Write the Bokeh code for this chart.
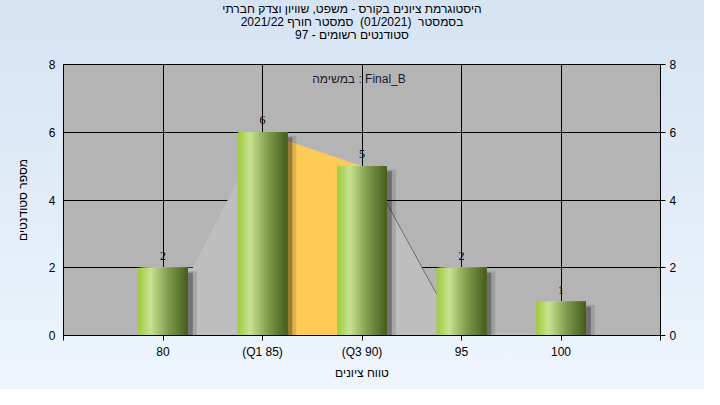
import numpy as np
from bokeh.plotting import figure
from bokeh.layouts import column
from bokeh.models import Range1d, LinearAxis, FixedTicker, Label, Div, ColumnDataSource, InlineStyleSheet
from bokeh.embed import file_html
from bokeh.resources import INLINE

# ---------------- data ----------------
categories = ["80", "(Q1 85)", "(Q3 90)", "95", "100"]
counts = [2, 6, 5, 2, 1]
y_ticks = [0, 2, 4, 6, 8]
x_ticks = [-1, 0, 1, 2, 3, 4, 5]

# distribution area behind the bars (x in category-index units)
curve_x = [0.0, 0.0, 0.3, 1.0, 2.0, 2.26, 2.73, 3.0, 4.0, 4.0]
curve_y = [0.0, 2.0, 2.0, 6.0, 5.0, 3.85, 1.33, 0.08, 0.05, 0.0]
# inter-quartile area (Q1 .. Q3)
iqr_x = [1.0, 1.0, 2.0, 2.0]
iqr_y = [0.0, 6.0, 5.0, 0.0]

title_lines = [
    "היסטוגרמת ציונים בקורס - משפט, שוויון וצדק חברתי",
    "בסמסטר&nbsp; (01/2021)&nbsp; סמסטר חורף 2021/22",
    "סטודנטים רשומים - 97",
]
x_label = "טווח ציונים"
y_label = "מספר סטודנטים"
note_text = "במשימה : Final_B"

FONT = "Liberation Sans"
W = 704
TITLE_H = 54

# ---------------- title block ----------------
title = Div(text="<br>".join(title_lines), width=W, height=TITLE_H, margin=(0, 0, 0, 0),
            styles={"font-family": FONT, "font-size": "12px", "line-height": "13px",
                    "text-align": "center", "color": "black", "padding-top": "3px",
                    "box-sizing": "border-box"})

# ---------------- figure ----------------
p = figure(width=W, height=389 - TITLE_H, output_backend="svg", toolbar_location=None,
           title=None,
           x_range=Range1d(-1, 5), y_range=Range1d(0, 8),
           min_border_left=63, min_border_right=44, min_border_top=64 - TITLE_H, min_border_bottom=54)

p.background_fill_color = "#B4B4B4"
p.border_fill_color = None
p.outline_line_color = "black"

# grid
p.xgrid.ticker = FixedTicker(ticks=x_ticks)
p.ygrid.ticker = FixedTicker(ticks=y_ticks)
for g in (p.xgrid[0], p.ygrid[0]):
    g.grid_line_color = "black"
    g.grid_line_width = 1

# distribution areas
p.patch(curve_x, curve_y, fill_color="#BEBEBE", line_color=None)
p.patch(iqr_x, iqr_y, fill_color="#FFCB57", line_color=None)
p.line(curve_x[4:8], curve_y[4:8], line_color="#6E6E6E", line_width=1)

# bar shadows
idx = np.arange(len(counts))
cnt = np.array(counts, dtype=float)
p.vbar(x=idx + 0.07, top=cnt - 0.1, bottom=-1, width=0.54, fill_color="black", fill_alpha=0.12, line_color=None)
p.vbar(x=idx + 0.05, top=cnt - 0.15, bottom=-1, width=0.5, fill_color="black", fill_alpha=0.3, line_color=None)

# gradient bars built from overlapping strips (each strip runs to the bar's right edge)
stops = [(0.0, (158, 204, 58)), (0.25, (200, 226, 146)), (0.6, (128, 158, 78)), (1.0, (70, 92, 28))]

def grad(t):
    for (t0, c0), (t1, c1) in zip(stops[:-1], stops[1:]):
        if t <= t1:
            f = (t - t0) / (t1 - t0)
            return "#%02x%02x%02x" % tuple(int(round(a + (b - a) * f)) for a, b in zip(c0, c1))
    return "#%02x%02x%02x" % stops[-1][1]

n = 30
bw = 0.5
sl, sr, st, sc = [], [], [], []
for i, c in enumerate(counts):
    for k in range(n):
        t = (k + 0.5) / n
        sl.append(i - bw / 2 + k * bw / n)
        sr.append(i + bw / 2)
        st.append(c)
        sc.append(grad(t))
src = ColumnDataSource(dict(left=sl, right=sr, top=st, color=sc))
p.quad(left="left", right="right", top="top", bottom=0, fill_color="color", line_color=None, source=src)

# value labels
p.text(x=idx, y=cnt, text=[str(c) for c in counts], text_align="center", text_baseline="bottom",
       y_offset=-8, text_font="Liberation Sans", text_font_size="12px", text_color="black")

# axes
xa = p.xaxis[0]
xa.ticker = FixedTicker(ticks=x_ticks)
xa.major_label_overrides = {i: categories[i] if 0 <= i < len(categories) else "" for i in x_ticks}
xa.axis_label = x_label
ya = p.yaxis[0]
ya.ticker = FixedTicker(ticks=y_ticks)
ya.axis_label = y_label

ra = LinearAxis(ticker=FixedTicker(ticks=y_ticks))
p.add_layout(ra, "right")

for ax in (xa, ya, ra):
    ax.axis_line_color = "black"
    ax.major_tick_line_color = "black"
    ax.minor_tick_line_color = None
    ax.major_tick_in = 0
    ax.major_tick_out = 5
    ax.major_label_text_font = FONT
    ax.major_label_text_font_size = "12px"
    ax.major_label_text_color = "black"
    ax.axis_label_text_font = FONT
    ax.axis_label_text_font_size = "12px"
    ax.axis_label_text_font_style = "normal"
    ax.axis_label_text_color = "black"
ya.major_tick_out = 0
ya.major_label_standoff = 8
ya.axis_label_standoff = 16
xa.major_label_standoff = 4
xa.axis_label_standoff = 4
ra.major_label_standoff = 4

p.add_layout(Label(x=2, y=8, x_offset=-3, y_offset=-14, text=note_text,
                   text_align="center", text_baseline="middle",
                   text_font=FONT, text_font_size="12px", text_color="#1a1a2a"))

layout = column(title, p, spacing=0)
layout.stylesheets = [InlineStyleSheet(css=":host { background: linear-gradient(to bottom, #D5E3F3, #EEF5FD); }")]

open("out.html", "w").write(file_html(layout, INLINE))
